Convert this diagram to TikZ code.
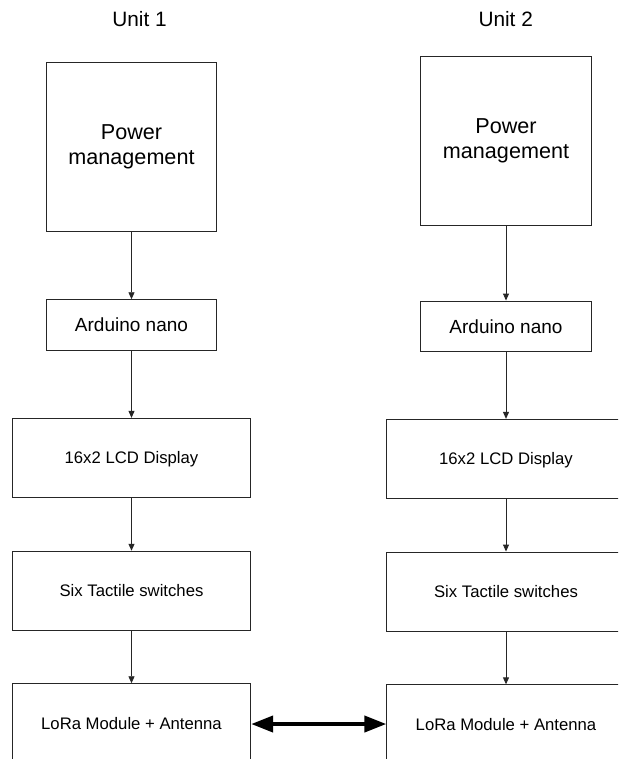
\documentclass[tikz,border=0pt]{standalone}
\usepackage{fontspec}
\setmainfont{Liberation Sans}
\usetikzlibrary{arrows.meta}
\begin{document}
\begin{tikzpicture}[x=1pt,y=-1pt,
  box/.style={draw=black!85,line width=0.9pt,rectangle,inner sep=0pt,align=center,anchor=center},
  powerbox/.style={box,minimum width=170.5pt,minimum height=169pt,font=\fontsize{21.6pt}{25pt}\selectfont},
  ardbox/.style={box,minimum width=170.5pt,minimum height=50.6pt,font=\fontsize{19pt}{22pt}\selectfont,text height=13.6pt,text depth=0pt},
  widebox/.style={box,minimum width=238.4pt,minimum height=79pt,font=\fontsize{16.7pt}{20pt}\selectfont,text height=12pt,text depth=0pt},
  unitlabel/.style={font=\fontsize{20.8pt}{24pt}\selectfont,inner sep=0pt,text height=14.9pt,text depth=0pt,anchor=center},
  flow/.style={draw=black!85,line width=0.9pt,-{Triangle[width=6pt,length=7pt]}},
  link/.style={draw=black,line width=4pt,{Triangle[width=16pt,length=22pt]}-{Triangle[width=16pt,length=22pt]}}
]
\useasboundingbox (0,0) rectangle (618,759);
\clip (0,0) rectangle (618,759);
\fill[white] (0,0) rectangle (618,759);

% Unit 1
\node[unitlabel] (u1) at (139.5,19.5) {Unit 1};
\node[powerbox] (p1) at (131.5,146.8) {Power\\management};
\node[ardbox] (a1) at (131.5,325) {Arduino nano};
\node[widebox] (l1) at (131.5,457.8) {16x2 LCD Display};
\node[widebox] (s1) at (131.5,590.7) {Six Tactile switches};
\node[widebox] (r1) at (131.5,723.2) {LoRa Module + Antenna};

% Unit 2
\node[unitlabel] (u2) at (505.7,19.5) {Unit 2};
\node[powerbox] (p2) at (506,141.3) {Power\\management};
\node[ardbox] (a2) at (506,326.3) {Arduino nano};
\node[widebox] (l2) at (506,458.8) {16x2 LCD Display};
\node[widebox] (s2) at (506,591.5) {Six Tactile switches};
\node[widebox] (r2) at (506,724.3) {LoRa Module + Antenna};

% connectors
\draw[flow] (p1) -- (a1);
\draw[flow] (a1) -- (l1);
\draw[flow] (l1) -- (s1);
\draw[flow] (s1) -- (r1);
\draw[flow] (p2) -- (a2);
\draw[flow] (a2) -- (l2);
\draw[flow] (l2) -- (s2);
\draw[flow] (s2) -- (r2);

\coordinate (lk) at ([yshift=-0.8pt]r1.east);
\draw[link] (lk) -- (lk -| r2.west);
\end{tikzpicture}
\end{document}
